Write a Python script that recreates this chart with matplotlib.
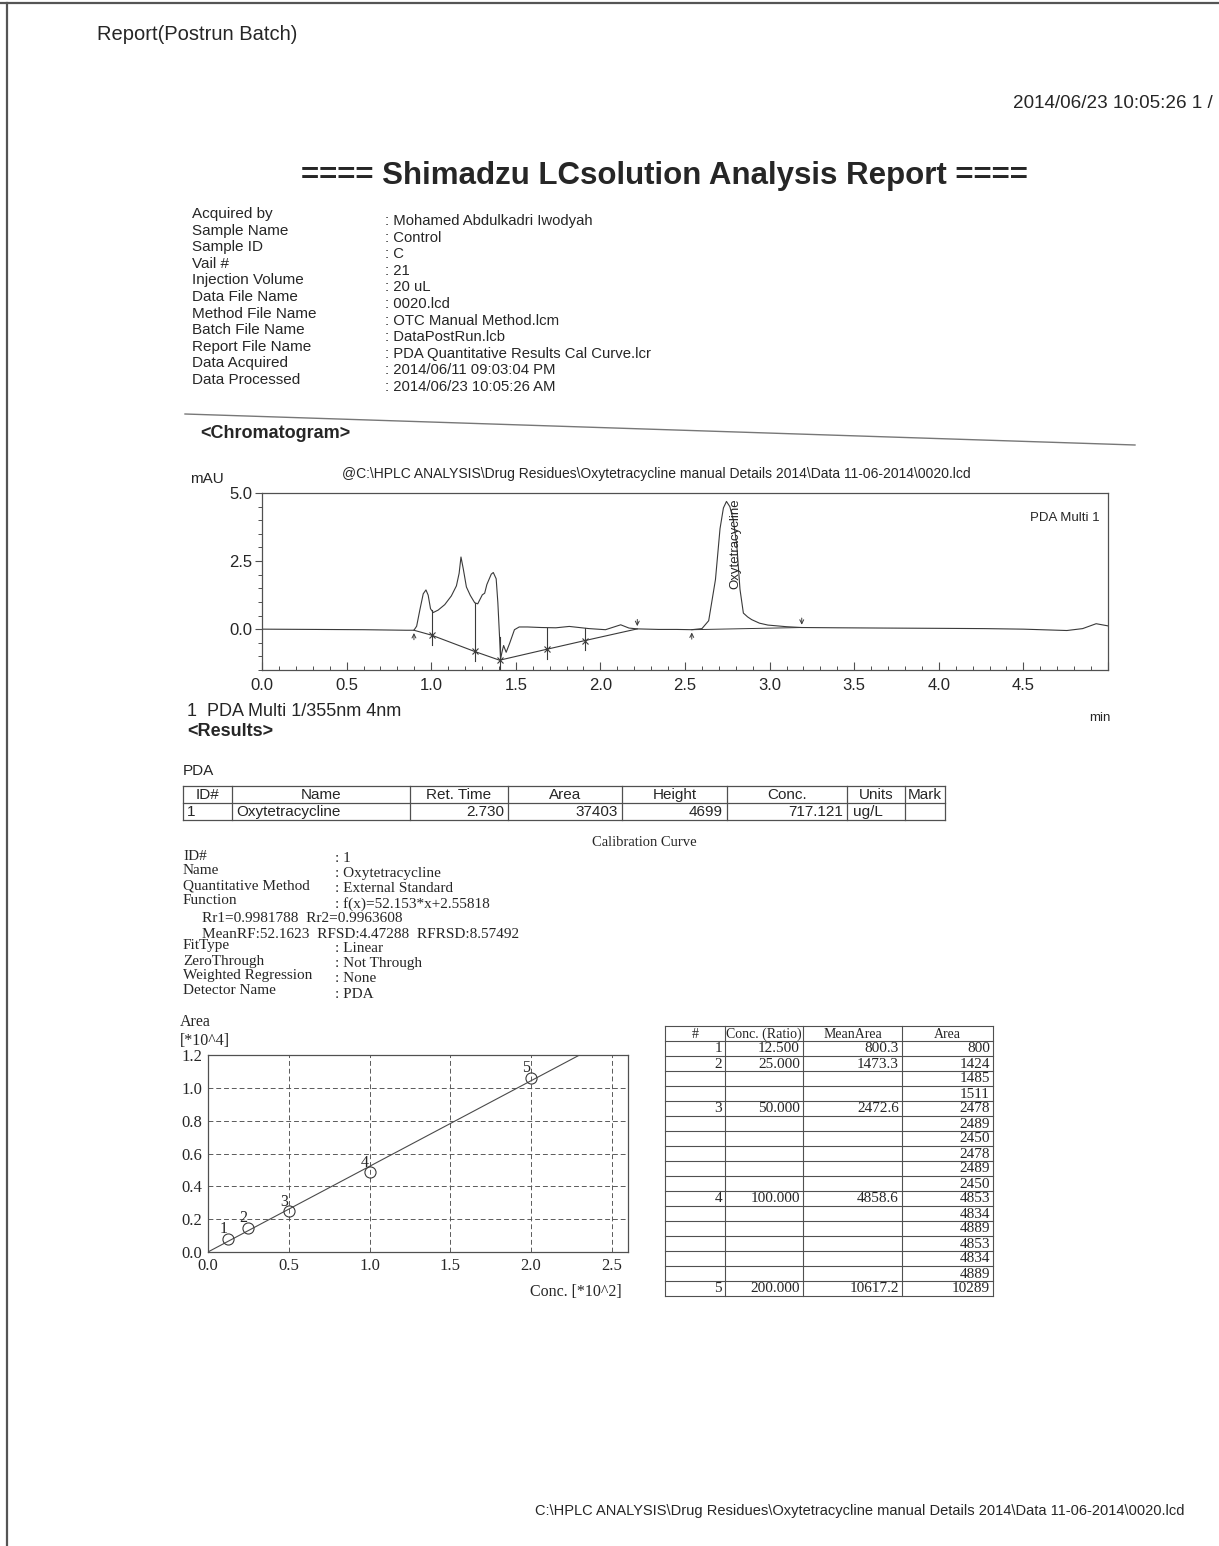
import matplotlib
matplotlib.use('Agg')
import matplotlib.pyplot as plt
import numpy as np

# ---------------- data ----------------
header_labels = ["Acquired by", "Sample Name", "Sample ID", "Vail #", "Injection Volume",
                 "Data File Name", "Method File Name", "Batch File Name", "Report File Name",
                 "Data Acquired", "Data Processed"]
header_values = ["Mohamed Abdulkadri Iwodyah", "Control", "C", "21", "20 uL", "0020.lcd",
                 "OTC Manual Method.lcm", "DataPostRun.lcb", "PDA Quantitative Results Cal Curve.lcr",
                 "2014/06/11 09:03:04 PM", "2014/06/23 10:05:26 AM"]

# chromatogram trace (min, mAU)
trace_t = [0.0, 0.3, 0.6, 0.85, 0.898, 0.914, 0.934, 0.953, 0.969, 0.982,
           0.996, 1.012, 1.041, 1.08, 1.119, 1.149, 1.165, 1.176, 1.19, 1.208,
           1.231, 1.257, 1.275, 1.302, 1.316, 1.329, 1.355, 1.367, 1.384, 1.394,
           1.404, 1.410, 1.418, 1.428, 1.443, 1.463, 1.492, 1.52, 1.57, 1.65,
           1.737, 1.816, 1.933, 2.03, 2.07, 2.12, 2.169, 2.218, 2.345, 2.45,
           2.54, 2.60, 2.64, 2.68, 2.707, 2.727, 2.745, 2.765, 2.786, 2.806,
           2.825, 2.845, 2.87, 2.894, 2.94, 2.99, 3.1, 3.19, 3.4, 3.68,
           4.0, 4.27, 4.5, 4.757, 4.85, 4.93, 5.0]
trace_y = [0.0, -0.01, -0.02, -0.04, -0.04, 0.11, 0.74, 1.30, 1.44, 1.25,
           0.75, 0.61, 0.70, 0.90, 1.22, 1.59, 2.05, 2.65, 2.2, 1.55,
           1.24, 0.97, 0.93, 1.26, 1.32, 1.64, 2.02, 2.08, 1.85, 0.97,
           -0.29, -1.1, -0.85, -0.6, -0.85, -0.53, -0.02, 0.08, 0.08, 0.06,
           0.05, 0.10, 0.02, -0.02, 0.06, 0.16, 0.04, 0.01, -0.01, -0.01,
           -0.02, 0.02, 0.31, 1.82, 3.69, 4.45, 4.69, 4.5, 4.0, 3.09,
           1.46, 0.59, 0.45, 0.35, 0.22, 0.15, 0.09, 0.06, 0.05, 0.04,
           0.03, 0.02, 0.0, -0.05, 0.02, 0.2, 0.12]

# integration baseline points (early unknown peaks)
bl_t = [0.898, 1.002, 1.257, 1.404, 1.682, 1.908, 2.218]
bl_y = [-0.04, -0.22, -0.82, -1.14, -0.74, -0.42, 0.01]
# oxytetracycline peak start / end
otc_t = [2.54, 3.19]
otc_y = [-0.02, 0.06]
peak_name = "Oxytetracycline"
peak_label_t = 2.80

# results table
res_headers = ["ID#", "Name", "Ret. Time", "Area", "Height", "Conc.", "Units", "Mark"]
res_values = ["1", "Oxytetracycline", "2.730", "37403", "4699", "717.121", "ug/L", ""]

# calibration info
info_labels = ["ID#", "Name", "Quantitative Method", "Function", "", "", "FitType",
               "ZeroThrough", "Weighted Regression", "Detector Name"]
info_values = [": 1", ": Oxytetracycline", ": External Standard", ": f(x)=52.153*x+2.55818",
               "", "", ": Linear", ": Not Through", ": None", ": PDA"]
info_extra = ["Rr1=0.9981788  Rr2=0.9963608", "MeanRF:52.1623  RFSD:4.47288  RFRSD:8.57492"]
fit_slope = 52.153
fit_intercept = 2.55818

# calibration levels
levels = [1, 2, 3, 4, 5]
level_conc = [12.5, 25.0, 50.0, 100.0, 200.0]
level_mean_area = [800.3, 1473.3, 2472.6, 4858.6, 10617.2]
level_row = [0, 1, 4, 10, 16]
area_rows = [800, 1424, 1485, 1511, 2478, 2489, 2450, 2478, 2489, 2450,
             4853, 4834, 4889, 4853, 4834, 4889, 10289]
cal_headers = ["#", "Conc. (Ratio)", "MeanArea", "Area"]

path_text = "C:\\HPLC ANALYSIS\\Drug Residues\\Oxytetracycline manual Details 2014\\Data 11-06-2014\\0020.lcd"

# ---------------- figure ----------------
W, H = 1219, 1546
SANS = ['Liberation Sans', 'DejaVu Sans']
SERIF = ['Liberation Serif', 'DejaVu Serif']
plt.rcParams['font.family'] = SANS
INK = '#262626'
LINE = '#505050'

fig = plt.figure(figsize=(W / 100, H / 100), dpi=100)
fig.patch.set_facecolor('white')

pg = fig.add_axes([0, 0, 1, 1])
pg.set_xlim(0, W)
pg.set_ylim(H, 0)
pg.axis('off')


def box(l, t, r, b):
    return [l / W, 1 - b / H, (r - l) / W, (b - t) / H]


def T(x, y, s, size, ha='left', va='center', fam=None, weight='normal', **kw):
    pg.text(x, y, s, fontsize=size, ha=ha, va=va, family=fam or SANS,
            weight=weight, color=INK, **kw)


# page edges from the scan
pg.plot([0, W], [3, 3], color='#555555', lw=1.6)
pg.plot([7, 7], [3, H], color='#555555', lw=1.6)

T(97, 35, "Report(Postrun Batch)", 14.5)
T(1213, 104, "2014/06/23 10:05:26 1 /", 13.6, ha='right')
T(664, 176, "==== Shimadzu LCsolution Analysis Report ====", 22.5, ha='center', weight='bold')

for i, (lab, val) in enumerate(zip(header_labels, header_values)):
    T(192, 214 + 16.6 * i, lab, 11)
    T(385, 221 + 16.6 * i, ": " + val, 10.7)

pg.plot([185, 1135], [414, 445], color='#777777', lw=1.0)
T(200, 434, "<Chromatogram>", 13, weight='bold')
T(190, 479, "mAU", 11)
T(656, 474, "@" + path_text, 10, ha='center')

# ---------------- chromatogram ----------------
ax = fig.add_axes(box(262, 493, 1108, 670))
ax.set_xlim(0, 5.0)
ax.set_ylim(-1.5, 5.0)
ax.plot(trace_t, trace_y, color='#3a3a3a', lw=0.8)
ax.plot(bl_t, bl_y, color='#3a3a3a', lw=0.8)
for k in range(1, len(bl_t) - 1):
    top = np.interp(bl_t[k], trace_t, trace_y)
    ax.plot([bl_t[k], bl_t[k]], [top, bl_y[k] - 0.35], color='#3a3a3a', lw=0.8)
    ax.plot(bl_t[k], bl_y[k], marker='x', ms=5, mew=0.8, color='#3a3a3a')
ax.annotate('', xy=(bl_t[0], bl_y[0]), xytext=(bl_t[0], bl_y[0] - 0.45),
            arrowprops=dict(arrowstyle='->', lw=0.7, color='#3a3a3a', mutation_scale=7))
ax.annotate('', xy=(bl_t[-1], bl_y[-1]), xytext=(bl_t[-1], bl_y[-1] + 0.45),
            arrowprops=dict(arrowstyle='->', lw=0.7, color='#3a3a3a', mutation_scale=7))
ax.plot(otc_t, otc_y, color='#3a3a3a', lw=0.7)
ax.annotate('', xy=(otc_t[0], otc_y[0]), xytext=(otc_t[0], otc_y[0] - 0.45),
            arrowprops=dict(arrowstyle='->', lw=0.7, color='#3a3a3a', mutation_scale=7))
ax.annotate('', xy=(otc_t[1], otc_y[1]), xytext=(otc_t[1], otc_y[1] + 0.45),
            arrowprops=dict(arrowstyle='->', lw=0.7, color='#3a3a3a', mutation_scale=7))
ax.text(peak_label_t, 4.8, peak_name, rotation=90, ha='center', va='top',
        fontsize=9.5, color=INK)
ax.text(0.99, 0.86, "PDA Multi 1", transform=ax.transAxes, ha='right', va='center',
        fontsize=9.5, color=INK)

xt = np.arange(0, 5.01, 0.5)
ax.set_xticks(xt)
ax.set_xticklabels([f"{v:.1f}" if v < 4.9 else "" for v in xt])
ax.set_xticks(np.arange(0, 5.01, 0.1), minor=True)
ax.set_yticks([0.0, 2.5, 5.0])
ax.set_yticklabels(["0.0", "2.5", "5.0"])
ax.set_yticks(np.arange(-1.5, 5.01, 0.5), minor=True)
ax.tick_params(axis='x', which='major', direction='in', length=6, width=0.8,
               pad=6, labelsize=12, colors=LINE, labelcolor=INK)
ax.tick_params(axis='x', which='minor', direction='in', length=3, width=0.7, colors=LINE)
ax.tick_params(axis='y', which='major', direction='out', length=5, width=0.8,
               pad=2, labelsize=12, colors=LINE, labelcolor=INK)
ax.tick_params(axis='y', which='minor', direction='out', length=3, width=0.7, colors=LINE)
for s in ax.spines.values():
    s.set_color(LINE)
    s.set_linewidth(0.9)

T(187, 712, "1  PDA Multi 1/355nm 4nm", 13)
T(1100, 718, "min", 9.5, ha='center')
T(187, 732, "<Results>", 13, weight='bold')

# ---------------- results table ----------------
T(183, 771, "PDA", 11)
rcols = [183, 232, 410, 508, 622, 727, 847, 905, 945]
rrows = [786, 803, 820]
for yy in rrows:
    pg.plot([rcols[0], rcols[-1]], [yy, yy], color=LINE, lw=0.9)
for xx in rcols:
    pg.plot([xx, xx], [rrows[0], rrows[-1]], color=LINE, lw=0.9)
for j, h in enumerate(res_headers):
    T((rcols[j] + rcols[j + 1]) / 2, (rrows[0] + rrows[1]) / 2 + 0.5, h, 11, ha='center')
ymid = (rrows[1] + rrows[2]) / 2 + 0.5
for j, v in enumerate(res_values):
    if j in (0, 1):
        T(rcols[j] + 4, ymid, v, 11)
    elif j == 6:
        T(rcols[j] + 6, ymid, v, 11)
    else:
        T(rcols[j + 1] - 4, ymid, v, 11, ha='right')

T(644, 842, "Calibration Curve", 10.5, ha='center', fam=SERIF)

# ---------------- calibration info ----------------
for i, (lab, val) in enumerate(zip(info_labels, info_values)):
    y0 = 856 + 15 * i
    if lab:
        T(183, y0, lab, 11, fam=SERIF)
    if val:
        T(335, y0 + 3, val, 11, fam=SERIF)
T(202, 919, info_extra[0], 11, fam=SERIF)
T(202, 934, info_extra[1], 11, fam=SERIF)

# ---------------- calibration plot ----------------
T(180, 1022, "Area", 11.5, fam=SERIF)
T(180, 1041, "[*10^4]", 11.5, fam=SERIF)
cal = fig.add_axes(box(208, 1055, 628, 1252))
cal.set_xlim(0, 2.6)
cal.set_ylim(0, 1.2)
xs = np.array([0.0, 2.6])
cal.plot(xs, (fit_slope * xs * 100 + fit_intercept) / 1e4, color='#4a4a4a', lw=0.8)
cx = np.array(level_conc) / 100
cy = np.array(level_mean_area) / 1e4
cal.plot(cx, cy, 'o', ms=8, mfc='none', mec='#3a3a3a', mew=0.8)
for lv, x0, y0 in zip(levels, cx, cy):
    cal.annotate(str(lv), (x0, y0), xytext=(-3.5, 7), textcoords='offset points',
                 ha='center', va='center', fontsize=11.5, family=SERIF, color=INK)
cal.set_xticks(np.arange(0, 2.51, 0.5))
cal.set_xticklabels([f"{v:.1f}" for v in np.arange(0, 2.51, 0.5)])
cal.set_yticks(np.arange(0, 1.21, 0.2))
cal.set_yticklabels([f"{v:.1f}" for v in np.arange(0, 1.21, 0.2)])
cal.tick_params(length=0, pad=4, labelsize=12, labelcolor=INK)
for lab in cal.get_xticklabels() + cal.get_yticklabels():
    lab.set_family(SERIF)
cal.grid(True, linestyle=(0, (5, 3)), color='#5a5a5a', lw=0.7)
for s in cal.spines.values():
    s.set_color(LINE)
    s.set_linewidth(0.9)
T(622, 1292, "Conc. [*10^2]", 11.5, ha='right', fam=SERIF)

# ---------------- calibration table ----------------
ccols = [665, 725, 803, 902, 993]
top, hdr_b, rh = 1026, 1041, 15
crows = [top, hdr_b] + [hdr_b + rh * (k + 1) for k in range(len(area_rows))]
for yy in crows:
    pg.plot([ccols[0], ccols[-1]], [yy, yy], color=LINE, lw=0.8)
for xx in ccols:
    pg.plot([xx, xx], [crows[0], crows[-1]], color=LINE, lw=0.8)
for j, h in enumerate(cal_headers):
    T((ccols[j] + ccols[j + 1]) / 2, (top + hdr_b) / 2 + 0.5, h, 10, ha='center', fam=SERIF)
for k, a in enumerate(area_rows):
    yc = hdr_b + rh * k + rh / 2 + 0.5
    T(ccols[4] - 3, yc, str(a), 11, ha='right', fam=SERIF)
for lv, rc, conc, ma in zip(levels, level_row, level_conc, level_mean_area):
    yc = hdr_b + rh * rc + rh / 2 + 0.5
    T(ccols[1] - 3, yc, str(lv), 11, ha='right', fam=SERIF)
    T(ccols[2] - 3, yc, f"{conc:.3f}", 11, ha='right', fam=SERIF)
    T(ccols[3] - 3, yc, f"{ma:.1f}", 11, ha='right', fam=SERIF)

# ---------------- footer ----------------
T(860, 1511, path_text, 10.5, ha='center')

fig.savefig('out.png', dpi=100, facecolor='white')
